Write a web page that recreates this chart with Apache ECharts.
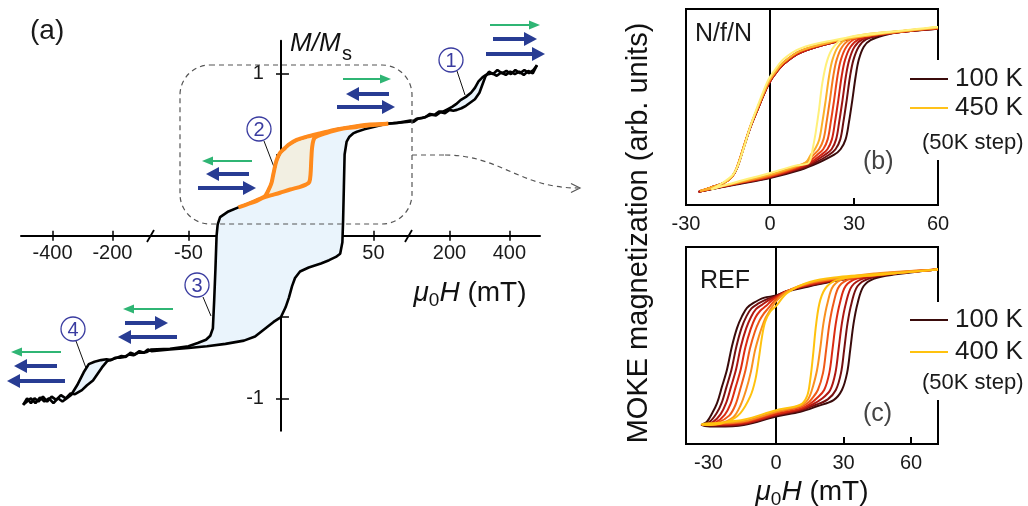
<!DOCTYPE html>
<html>
<head>
<meta charset="utf-8">
<script src="https://cdn.jsdelivr.net/npm/echarts@6.0.0/dist/echarts.min.js"></script>
<style>
html, body { margin: 0; padding: 0; background: #fff; }
#main { width: 1028px; height: 506px; }
</style>
</head>
<body>
<div id="main"></div>
<script>
// ---------- panel (a): M/Ms vs field, broken field axis ----------
const aTickH = [-400, -200, -50, 50, 200, 400];
const aTickM = [-1, -0.5, 0.5, 1];
const aLabelM = [-1, 1];

// major loop, field increasing
const aBlackUp = [[-498,-1.04],[-485,-1.0],[-472,-1.03],[-460,-1.0],[-447,-1.02],[-432,-0.99],[-418,-1.02],[-403,-0.99],[-388,-1.01],[-372,-0.98],[-356,-1.0],[-340,-0.97],[-325,-0.975],[-302,-0.95],[-285,-0.92],[-265,-0.89],[-250,-0.85],[-235,-0.81],[-217,-0.77],[-200,-0.76],[-185,-0.75],[-170,-0.74],[-155,-0.745],[-140,-0.72],[-125,-0.73],[-110,-0.71],[-95,-0.72],[-82,-0.70],[-70,-0.71],[-60,-0.70],[-50,-0.69],[-40,-0.68],[-30,-0.665],[-20,-0.645],[-14,-0.62],[-9,-0.575],[-4,-0.53],[0,-0.5],[2.5,-0.44],[4.3,-0.38],[6,-0.31],[7.6,-0.26],[10.3,-0.22],[15,-0.195],[21.6,-0.17],[26,-0.15],[29.7,-0.13],[32,-0.11],[33.2,-0.04],[33.6,0.1],[34,0.3],[34.4,0.5],[35.5,0.58],[37,0.61],[39,0.63],[41,0.64],[45,0.655],[50,0.67],[57,0.69],[63,0.695],[70,0.71],[80,0.70],[95,0.72],[110,0.725],[125,0.735],[140,0.745],[155,0.74],[170,0.76],[185,0.755],[200,0.775],[213,0.77],[225,0.775],[240,0.785],[255,0.80],[270,0.82],[285,0.84],[300,0.88],[308,0.92],[320,0.98],[332,1.01],[345,0.995],[360,1.02],[375,1.0],[390,1.015],[405,0.995],[420,1.02],[435,1.0],[450,1.02],[465,1.0],[480,1.02],[492,1.05]];
// major loop, field decreasing
const aBlackDown = [[492,1.05],[478,1.0],[463,1.015],[448,0.99],[433,1.01],[418,0.995],[403,1.01],[388,0.99],[373,1.005],[358,0.985],[343,1.0],[330,0.995],[321,0.99],[310,0.975],[297,0.95],[285,0.91],[272,0.88],[255,0.855],[237,0.835],[222,0.81],[210,0.795],[195,0.78],[180,0.765],[165,0.765],[150,0.745],[135,0.75],[120,0.73],[105,0.725],[90,0.72],[78,0.705],[68,0.70],[57,0.69],[48,0.685],[41,0.675],[30,0.655],[21,0.63],[14,0.61],[8.5,0.59],[4,0.56],[2.2,0.54],[-0.5,0.51],[-2.5,0.46],[-4.1,0.38],[-5,0.33],[-6,0.30],[-8.6,0.24],[-12,0.225],[-17,0.20],[-23,0.175],[-28.4,0.15],[-32.9,0.115],[-34.2,0.07],[-34.8,0.0],[-35.4,-0.2],[-36.1,-0.4],[-36.8,-0.57],[-38.2,-0.615],[-40.5,-0.64],[-45,-0.66],[-50,-0.68],[-60,-0.695],[-72,-0.70],[-85,-0.715],[-100,-0.72],[-115,-0.72],[-130,-0.735],[-145,-0.73],[-160,-0.745],[-175,-0.75],[-190,-0.75],[-205,-0.765],[-220,-0.76],[-238,-0.765],[-260,-0.775],[-279,-0.79],[-296,-0.84],[-318,-0.92],[-338,-0.98],[-352,-1.0],[-367,-1.02],[-382,-1.0],[-397,-1.03],[-412,-1.0],[-427,-1.02],[-442,-0.995],[-457,-1.03],[-472,-1.0],[-485,-1.02],[-498,-1.04]];
// minor loop (orange)
const aOrangeUp = [[-23,0.175],[-18,0.195],[-13,0.215],[-9.5,0.235],[-5,0.25],[-0.5,0.265],[5,0.285],[10,0.30],[13.5,0.315],[15.3,0.33],[16,0.38],[16.4,0.47],[16.9,0.55],[18,0.60],[20,0.615],[24,0.63],[28,0.645],[33.7,0.66],[41,0.67],[48,0.68],[58,0.69]];
const aOrangeDown = [[58,0.69],[48,0.685],[41,0.675],[30,0.655],[21,0.63],[14,0.61],[8.5,0.59],[4,0.56],[2.2,0.54],[-0.5,0.51],[-2.5,0.46],[-4.1,0.38],[-5,0.33],[-6,0.30],[-8.6,0.245],[-12,0.225],[-17,0.2],[-23,0.175]];

// ---------- panel (b): N/f/N, 100 K .. 450 K ----------
const bTemps = ['100 K','150 K','200 K','250 K','300 K','350 K','400 K','450 K'];
const bDescA = [[60,0.995],[46.7,0.95],[34.7,0.895],[22.8,0.825],[10.9,0.70],[4.9,0.56],[1.4,0.42],[-0.4,0.32],[-2.2,0.19],[-4.6,-0.01],[-7,-0.21],[-9.4,-0.46],[-11.7,-0.70],[-13.5,-0.81],[-16.5,-0.89],[-21.3,-0.95],[-25.5,-1.0]];
const bDescB = [[60,1.0],[46.7,0.955],[34.7,0.905],[22.8,0.835],[10.9,0.72],[4.9,0.58],[1.4,0.44],[-0.4,0.35],[-2.2,0.21],[-4.6,0.01],[-7,-0.2],[-9.4,-0.45],[-11.7,-0.69],[-13.5,-0.81],[-16.5,-0.89],[-21.3,-0.95],[-25,-0.99]];
const bDescC = [[60,1.01],[46.7,0.965],[34.7,0.915],[22.8,0.85],[10.9,0.75],[4.9,0.62],[1.4,0.47],[-0.4,0.38],[-2.2,0.24],[-4.6,0.03],[-7,-0.2],[-9.4,-0.47],[-11.7,-0.70],[-13.5,-0.80],[-16.5,-0.88],[-21,-0.97]];
const bAsc100 = [[-25.5,-1.0],[-13,-0.915],[0,-0.83],[11,-0.73],[17,-0.65],[22.8,-0.55],[25.2,-0.48],[27,-0.36],[28.2,-0.15],[29.4,0.12],[30.6,0.41],[31.7,0.61],[33.5,0.77],[35.9,0.85],[40.7,0.91],[46.7,0.95],[60,0.99]];
const bAsc150 = [[-25.5,-1.0],[-13,-0.91],[0,-0.825],[11,-0.72],[16,-0.645],[21,-0.55],[23.4,-0.48],[25.1,-0.36],[26.2,-0.15],[27.4,0.12],[28.6,0.41],[29.8,0.61],[31.7,0.77],[34.3,0.86],[40,0.915],[46.7,0.95],[60,0.99]];
const bAsc200 = [[-25.5,-1.0],[-13,-0.91],[0,-0.82],[10,-0.72],[15,-0.645],[19.5,-0.55],[22,-0.48],[23.6,-0.36],[24.7,-0.15],[25.9,0.12],[27.1,0.41],[28.3,0.61],[30.2,0.77],[33,0.86],[39,0.915],[46.7,0.955],[60,0.99]];
const bAsc250 = [[-25.5,-1.0],[-13,-0.905],[0,-0.815],[10,-0.71],[14.5,-0.64],[18.2,-0.55],[20.5,-0.48],[22.1,-0.36],[23.2,-0.15],[24.4,0.12],[25.6,0.41],[26.8,0.61],[28.8,0.77],[31.7,0.86],[38,0.915],[46.7,0.955],[60,0.995]];
const bAsc300 = [[-25,-0.99],[-13,-0.9],[0,-0.81],[9,-0.71],[13.5,-0.64],[16.8,-0.55],[19,-0.48],[20.6,-0.36],[21.7,-0.15],[22.9,0.12],[24.1,0.41],[25.3,0.61],[27.3,0.77],[30.3,0.865],[37,0.92],[46.7,0.96],[60,0.995]];
const bAsc350 = [[-25,-0.99],[-13,-0.9],[0,-0.8],[9,-0.7],[13,-0.64],[15.5,-0.55],[17.5,-0.48],[19.1,-0.36],[20.2,-0.15],[21.4,0.12],[22.6,0.41],[23.8,0.61],[25.8,0.77],[29,0.865],[36,0.92],[46.7,0.96],[60,1.0]];
const bAsc400 = [[-25,-0.99],[-12,-0.89],[0,-0.79],[9,-0.69],[12.8,-0.64],[14.5,-0.55],[16.2,-0.47],[17.6,-0.36],[18.7,-0.15],[19.9,0.12],[21.1,0.41],[22.3,0.61],[24.3,0.77],[27.7,0.87],[35,0.925],[46.7,0.96],[60,1.0]];
const bAsc450 = [[-21,-0.97],[-12,-0.88],[0,-0.77],[9,-0.68],[13.5,-0.655],[14.5,-0.6],[15.4,-0.45],[16.3,-0.28],[17.5,0],[18.7,0.33],[20.5,0.61],[22.8,0.77],[26.4,0.87],[35,0.925],[46.7,0.965],[60,1.01]];

// ---------- panel (c): REF, 100 K .. 400 K ----------
const cTemps = ['100 K','150 K','200 K','250 K','300 K','350 K','400 K'];
const cDesc100 = [[72,1.0],[55,0.957],[45,0.914],[30,0.871],[15,0.785],[5,0.72],[0,0.665],[-5.5,0.635],[-10,0.57],[-12.9,0.506],[-15.1,0.40],[-17.3,0.25],[-19.6,0.01],[-21.8,-0.29],[-24,-0.506],[-26.2,-0.72],[-28.4,-0.85],[-30.7,-0.957],[-33,-1.0]];
const cDesc150 = [[72,1.0],[55,0.96],[45,0.92],[30,0.875],[15,0.795],[5,0.725],[0,0.66],[-4,0.62],[-8,0.56],[-10.9,0.5],[-13.1,0.40],[-15.3,0.25],[-17.6,0.01],[-19.8,-0.29],[-22,-0.51],[-24.2,-0.72],[-26.4,-0.85],[-29.5,-0.96],[-33,-1.0]];
const cDesc200 = [[72,1.0],[55,0.96],[45,0.925],[30,0.88],[15,0.8],[5,0.725],[0,0.65],[-3,0.61],[-6,0.55],[-8.9,0.49],[-11.1,0.39],[-13.3,0.24],[-15.6,0.01],[-17.8,-0.29],[-20,-0.51],[-22.2,-0.72],[-24.6,-0.86],[-28,-0.96],[-33,-1.0]];
const cDesc250 = [[72,1.0],[55,0.96],[45,0.925],[30,0.885],[15,0.81],[5,0.72],[0,0.64],[-2,0.6],[-4.5,0.53],[-7,0.47],[-9.2,0.38],[-11.3,0.23],[-13.6,0.0],[-15.8,-0.3],[-18,-0.52],[-20.2,-0.73],[-22.8,-0.87],[-27,-0.97],[-33,-1.0]];
const cDesc300 = [[72,1.0],[55,0.96],[45,0.93],[30,0.89],[15,0.82],[5,0.72],[0,0.62],[-1.5,0.57],[-3.5,0.5],[-5.5,0.43],[-7.4,0.34],[-9.4,0.2],[-11.6,-0.02],[-13.6,-0.3],[-15.8,-0.53],[-18,-0.74],[-20.8,-0.88],[-26,-0.97],[-33,-1.0]];
const cDesc350 = [[72,1.0],[55,0.96],[45,0.93],[30,0.895],[15,0.83],[5,0.72],[0,0.59],[-1.5,0.53],[-3,0.46],[-4.6,0.38],[-6,0.28],[-7.6,0.14],[-9.4,-0.05],[-11.2,-0.32],[-13.3,-0.55],[-15.8,-0.75],[-19,-0.9],[-25,-0.98],[-33,-1.0]];
const cDesc400 = [[72,1.0],[55,0.96],[40,0.93],[28,0.905],[15,0.84],[5,0.70],[0,0.53],[-2.5,0.46],[-4.8,0.33],[-6.2,0.14],[-7.7,-0.16],[-9.2,-0.42],[-11.4,-0.63],[-15.9,-0.85],[-21.8,-0.96],[-29.2,-1.0],[-33,-0.99]];
const cAsc100 = [[-33,-1.0],[-26.2,-1.02],[-14.4,-1.0],[0,-0.89],[10.8,-0.83],[18.2,-0.76],[25.6,-0.68],[29.3,-0.55],[31.6,-0.33],[33,-0.03],[34.5,0.31],[36.3,0.57],[38.9,0.785],[43.4,0.88],[52.3,0.935],[72,1.0]];
const cAsc150 = [[-33,-1.0],[-26,-1.01],[-14.4,-0.99],[0,-0.88],[10.8,-0.815],[17,-0.75],[23,-0.67],[26.6,-0.55],[28.9,-0.33],[30.3,-0.03],[31.8,0.31],[33.6,0.57],[36.2,0.785],[41,0.88],[51,0.94],[72,1.0]];
const cAsc200 = [[-33,-1.0],[-26,-1.0],[-14,-0.98],[0,-0.87],[10.8,-0.8],[16,-0.74],[20.5,-0.66],[24.1,-0.55],[26.4,-0.33],[27.8,-0.03],[29.3,0.31],[31.1,0.57],[33.7,0.785],[38.5,0.88],[50,0.94],[72,1.0]];
const cAsc250 = [[-33,-1.0],[-25,-0.99],[-14,-0.97],[0,-0.86],[10.8,-0.79],[15,-0.73],[18,-0.66],[21.4,-0.55],[23.7,-0.33],[25.1,-0.03],[26.6,0.31],[28.4,0.57],[31,0.79],[36,0.885],[48,0.945],[72,1.0]];
const cAsc300 = [[-33,-1.0],[-25,-0.985],[-14,-0.96],[0,-0.84],[10.8,-0.77],[14,-0.72],[16,-0.66],[18.6,-0.55],[20.9,-0.33],[22.3,-0.03],[23.8,0.31],[25.6,0.57],[28.2,0.79],[33.5,0.885],[46,0.945],[72,1.0]];
const cAsc350 = [[-33,-1.0],[-25,-0.98],[-14,-0.95],[0,-0.83],[10.8,-0.755],[13.5,-0.7],[15,-0.63],[16.5,-0.5],[18.2,-0.3],[19.6,-0.03],[21.1,0.31],[22.9,0.57],[25.5,0.79],[31,0.89],[44,0.95],[72,1.0]];
const cAsc400 = [[-33,-0.99],[-25,-0.97],[-14,-0.93],[0,-0.81],[10.8,-0.74],[13.8,-0.63],[15.2,-0.42],[16.4,-0.12],[17.9,0.31],[19.7,0.61],[22.7,0.785],[28.6,0.88],[40.4,0.92],[55.2,0.957],[72,1.0]];

const bTicks = [-30, 0, 30, 60];
const cTicks = [-30, 0, 30, 60];

// ---------- styling ----------
const FONT = '"Liberation Sans", Arial, Helvetica, sans-serif';
const bColors = ['#3a0b0b','#6b0f0f','#a01512','#cf2412','#ea4416','#f67a1c','#fbb02a','#fff07a'];
const cColors = ['#3a0b0b','#751010','#b01812','#dc2c12','#f05a18','#f99020','#ffc20e'];
const GREEN = '#2fb574', BLUE = '#283c93', BADGE = '#3a3ca0';

// broken axis: linear inside |H|<=70 mT, squeezed outside
const BRK = 70, SQZ = 0.162;
function toU(h) { const a = Math.abs(h); return a <= BRK ? h : Math.sign(h) * (BRK + (a - BRK) * SQZ); }
function fromU(u) { const a = Math.abs(u); return a <= BRK ? u : Math.sign(u) * (BRK + (a - BRK) / SQZ); }
const brk = pts => pts.map(p => [toU(p[0]), p[1]]);

// panel (a) grid; axes are shifted onto the origin with offset
const GA = { left: 21, top: 40.8, width: 519, height: 390 };
const AX = [-140.5, 140], AY = [-1.2, 1.2];
const offX = -(GA.height * (0 - AY[0]) / (AY[1] - AY[0]));   // from bottom edge up to M = 0
const offY = -(GA.width * (0 - AX[0]) / (AX[1] - AX[0]));    // from left edge right to H = 0

function fillSeries(pts, color, z) {
    return {
        type: 'custom', xAxisIndex: 0, yAxisIndex: 0, z: z, silent: true, data: [[0, 0]],
        renderItem: function (params, api) {
            return { type: 'polygon', shape: { points: pts.map(p => api.coord(p)) }, style: { fill: color } };
        }
    };
}

function arrow(x1, x2, y, kind) {
    const green = kind === 'g';
    const color = green ? GREEN : BLUE;
    const w = green ? 2.2 : 4.2;
    const hl = green ? 11 : 13, hh = green ? 4.5 : 7;
    const d = x2 > x1 ? 1 : -1;
    return { type: 'group', z: 60, children: [
        { type: 'line', shape: { x1: x1, y1: y, x2: x2 - d * hl * 0.8, y2: y }, style: { stroke: color, lineWidth: w } },
        { type: 'polygon', shape: { points: [[x2, y], [x2 - d * hl, y - hh], [x2 - d * hl, y + hh]] }, style: { fill: color } }
    ]};
}

function badge(cx, cy, n, lx1, ly1, lx2, ly2) {
    return { type: 'group', z: 60, children: [
        { type: 'line', shape: { x1: lx1, y1: ly1, x2: lx2, y2: ly2 }, style: { stroke: '#111', lineWidth: 1 } },
        { type: 'circle', shape: { cx: cx, cy: cy, r: 12 }, style: { fill: '#fff', stroke: BADGE, lineWidth: 1.3 } },
        { type: 'text', style: { text: n, x: cx, y: cy + 1, textAlign: 'center', textVerticalAlign: 'middle', font: '20px ' + FONT, fill: BADGE } }
    ]};
}

function txt(text, x, y, size, opts) {
    return { type: 'text', z: 70, style: Object.assign({ text: text, x: x, y: y, font: size + 'px ' + FONT, fill: '#1a1a1a', textVerticalAlign: 'middle' }, opts || {}) };
}

const subRich = {
    i: { fontSize: 28, lineHeight: 34, fontStyle: 'italic', fontFamily: FONT, fill: '#111' },
    s: { fontSize: 19, lineHeight: 17, fontFamily: FONT, verticalAlign: 'bottom', fill: '#111' },
    n: { fontSize: 28, lineHeight: 34, fontFamily: FONT, fill: '#111' }
};

const lineSeries = [];
bTemps.forEach((t, i) => {
    const desc = i < 4 ? bDescA : (i < 7 ? bDescB : bDescC);
    const asc = [bAsc100, bAsc150, bAsc200, bAsc250, bAsc300, bAsc350, bAsc400, bAsc450][i];
    lineSeries.push({ name: 'b ' + t, type: 'line', xAxisIndex: 2, yAxisIndex: 2, data: desc.concat(asc),
        showSymbol: false, symbol: 'none', smooth: 0.35, z: 10 + i,
        lineStyle: { color: bColors[i], width: 2 } });
});
cTemps.forEach((t, i) => {
    const desc = [cDesc100, cDesc150, cDesc200, cDesc250, cDesc300, cDesc350, cDesc400][i];
    const asc = [cAsc100, cAsc150, cAsc200, cAsc250, cAsc300, cAsc350, cAsc400][i];
    lineSeries.push({ name: 'c ' + t, type: 'line', xAxisIndex: 3, yAxisIndex: 3, data: desc.concat(asc),
        showSymbol: false, symbol: 'none', smooth: 0.35, z: 10 + i,
        lineStyle: { color: cColors[i], width: 2 } });
});

const axisBlack = { color: '#000', width: 2 };
const tickBlack = { color: '#000', width: 1.5 };
const labelStyle = { fontSize: 20, color: '#1a1a1a', fontFamily: FONT };

const option = {
    animation: false,
    backgroundColor: '#fff',
    grid: [
        Object.assign({ outerBoundsMode: 'none' }, GA),
        { left: 686, top: 9, width: 252, height: 196, show: true, borderColor: '#000', borderWidth: 2, outerBoundsMode: 'none' },
        { left: 686, top: 247, width: 252, height: 197, show: true, borderColor: '#000', borderWidth: 2, outerBoundsMode: 'none' }
    ],
    xAxis: [
        { gridIndex: 0, type: 'value', min: AX[0], max: AX[1], position: 'bottom', offset: offX,
          axisLine: { onZero: false, lineStyle: axisBlack },
          axisTick: { customValues: aTickH.map(toU), length: 5, lineStyle: tickBlack },
          axisLabel: Object.assign({ customValues: aTickH.map(toU), margin: 8, formatter: v => String(Math.round(fromU(v))) }, labelStyle),
          splitLine: { show: false } },
        { gridIndex: 0, type: 'value', min: AX[0], max: AX[1], position: 'bottom', offset: offX,
          axisLine: { show: false, onZero: false },
          axisTick: { inside: true, customValues: aTickH.map(toU), length: 5, lineStyle: tickBlack },
          axisLabel: { show: false }, splitLine: { show: false } },
        { gridIndex: 1, type: 'value', min: -30, max: 60, interval: 30,
          axisLine: { onZero: false, lineStyle: axisBlack },
          axisTick: { inside: true, length: 7, lineStyle: { color: '#000', width: 2 } },
          axisLabel: Object.assign({ customValues: bTicks, margin: 9 }, labelStyle),
          splitLine: { show: false } },
        { gridIndex: 2, type: 'value', min: -40, max: 72,
          axisLine: { onZero: false, lineStyle: axisBlack },
          axisTick: { inside: true, length: 7, customValues: [0, 30, 60], lineStyle: { color: '#000', width: 2 } },
          axisLabel: Object.assign({ customValues: cTicks, margin: 9 }, labelStyle),
          splitLine: { show: false } }
    ],
    yAxis: [
        { gridIndex: 0, type: 'value', min: AY[0], max: AY[1], position: 'left', offset: offY,
          axisLine: { onZero: false, lineStyle: axisBlack },
          axisTick: { customValues: aTickM, length: 5, lineStyle: tickBlack },
          axisLabel: Object.assign({ customValues: aLabelM, margin: 17 }, labelStyle),
          splitLine: { show: false } },
        { gridIndex: 0, type: 'value', min: AY[0], max: AY[1], position: 'left', offset: offY,
          axisLine: { show: false, onZero: false },
          axisTick: { inside: true, customValues: aTickM, length: 8, lineStyle: tickBlack },
          axisLabel: { show: false }, splitLine: { show: false } },
        { gridIndex: 1, type: 'value', min: -1.16, max: 1.23,
          axisLine: { onZero: true, lineStyle: axisBlack }, axisTick: { show: false },
          axisLabel: { show: false }, splitLine: { show: false } },
        { gridIndex: 2, type: 'value', min: -1.245, max: 1.29,
          axisLine: { onZero: true, lineStyle: axisBlack }, axisTick: { show: false },
          axisLabel: { show: false }, splitLine: { show: false } }
    ],
    series: [
        fillSeries(brk(aBlackUp.concat(aBlackDown)), '#eaf4fc', 1),
        fillSeries(brk(aOrangeUp.concat(aOrangeDown)), '#f2efe2', 2),
        { name: 'major up', type: 'line', xAxisIndex: 0, yAxisIndex: 0, data: brk(aBlackUp), showSymbol: false, symbol: 'none', z: 3,
          lineStyle: { color: '#000', width: 2.6 } },
        { name: 'major down', type: 'line', xAxisIndex: 0, yAxisIndex: 0, data: brk(aBlackDown), showSymbol: false, symbol: 'none', z: 3,
          lineStyle: { color: '#000', width: 2.6 } },
        { name: 'minor loop', type: 'line', xAxisIndex: 0, yAxisIndex: 0, data: brk(aOrangeUp.concat(aOrangeDown)), showSymbol: false, symbol: 'none',
          smooth: 0.3, z: 4, lineStyle: { color: '#ff8a1c', width: 4 } }
    ].concat(lineSeries),
    graphic: { elements: [
        // dashed zoom box and connector
        { type: 'rect', z: 50, shape: { x: 180, y: 65, width: 232, height: 159, r: 30 }, style: { fill: null, stroke: '#555', lineWidth: 1.2, lineDash: [5, 4] } },
        { type: 'line', z: 50, shape: { x1: 412, y1: 155, x2: 445, y2: 155 }, style: { stroke: '#555', lineWidth: 1.2, lineDash: [5, 4] } },
        { type: 'bezierCurve', z: 50, shape: { x1: 445, y1: 155, cpx1: 500, cpy1: 155, cpx2: 520, cpy2: 188, x2: 578, y2: 188 }, style: { fill: null, stroke: '#555', lineWidth: 1.2, lineDash: [5, 4] } },
        { type: 'polyline', z: 50, shape: { points: [[571, 183.5], [580, 188], [571, 192.5]] }, style: { stroke: '#555', lineWidth: 1.2 } },
        // axis break marks
        { type: 'line', z: 50, shape: { x1: 147, y1: 242, x2: 154, y2: 230 }, style: { stroke: '#000', lineWidth: 1.8 } },
        { type: 'line', z: 50, shape: { x1: 405, y1: 242, x2: 412, y2: 230 }, style: { stroke: '#000', lineWidth: 1.8 } },
        // field-sweep arrows
        arrow(490, 540, 25, 'g'), arrow(493, 537, 39, 'b'), arrow(486, 545, 54, 'b'),
        arrow(343, 391, 79, 'g'), arrow(389, 346, 94, 'b'), arrow(337, 395, 107, 'b'),
        arrow(252, 202, 161, 'g'), arrow(249, 206, 174, 'b'), arrow(198, 256, 188, 'b'),
        arrow(173, 123, 309, 'g'), arrow(125, 168, 323, 'b'), arrow(177, 118, 337, 'b'),
        arrow(61, 11, 352, 'g'), arrow(57, 14, 366, 'b'), arrow(65, 7, 381, 'b'),
        // circled step labels
        badge(451, 60, '1', 457, 71, 465, 95),
        badge(259, 129, '2', 264, 141, 274, 167),
        badge(197, 285, '3', 203, 297, 211, 316),
        badge(73, 329, '4', 76, 341, 86, 368),
        // panel (a) texts
        txt('(a)', 30, 31, 28),
        txt('M/M', 290, 44, 26, { fontStyle: 'italic', font: 'italic 26px ' + FONT, fill: '#111' }),
        txt('s', 342, 54, 20, { fill: '#111' }),
        { type: 'text', z: 70, style: { text: '{i|μ}{s|0}{i|H}{n| (mT)}', x: 470, y: 293, textAlign: 'center', textVerticalAlign: 'middle', fill: '#111', rich: subRich } },
        // panel (b)/(c) texts
        { type: 'text', z: 70, x: 639, y: 233, rotation: Math.PI / 2,
          style: { text: 'MOKE magnetization (arb. units)', x: 0, y: 0, textAlign: 'center', textVerticalAlign: 'middle', font: '29px ' + FONT, fill: '#111' } },
        { type: 'text', z: 70, style: { text: '{i|μ}{s|0}{i|H}{n| (mT)}', x: 812, y: 492, textAlign: 'center', textVerticalAlign: 'middle', fill: '#111', rich: subRich } },
        txt('N/f/N', 695, 34, 25),
        txt('REF', 700, 281, 25),
        txt('(b)', 863, 162, 25, { fill: '#444' }),
        txt('(c)', 863, 414, 25, { fill: '#444' }),
        // legends
        { type: 'rect', z: 55, shape: { x: 933, y: 60, width: 95, height: 100 }, style: { fill: '#fff' } },
        { type: 'rect', z: 55, shape: { x: 933, y: 302, width: 95, height: 98 }, style: { fill: '#fff' } },
        { type: 'line', z: 70, shape: { x1: 910, y1: 79, x2: 948, y2: 79 }, style: { stroke: bColors[0], lineWidth: 2 } },
        { type: 'line', z: 70, shape: { x1: 910, y1: 108, x2: 948, y2: 108 }, style: { stroke: '#ffc21a', lineWidth: 2 } },
        txt(bTemps[0], 955, 79, 26), txt(bTemps[7], 955, 108, 26), txt('(50K step)', 922, 143, 22),
        { type: 'line', z: 70, shape: { x1: 910, y1: 320, x2: 948, y2: 320 }, style: { stroke: cColors[0], lineWidth: 2 } },
        { type: 'line', z: 70, shape: { x1: 910, y1: 352, x2: 948, y2: 352 }, style: { stroke: '#ffc20e', lineWidth: 2 } },
        txt(cTemps[0], 955, 320, 26), txt(cTemps[6], 955, 352, 26), txt('(50K step)', 922, 383, 22)
    ] }
};

const chart = echarts.init(document.getElementById('main'), null, { renderer: 'canvas' });
chart.setOption(option);
</script>
</body>
</html>
